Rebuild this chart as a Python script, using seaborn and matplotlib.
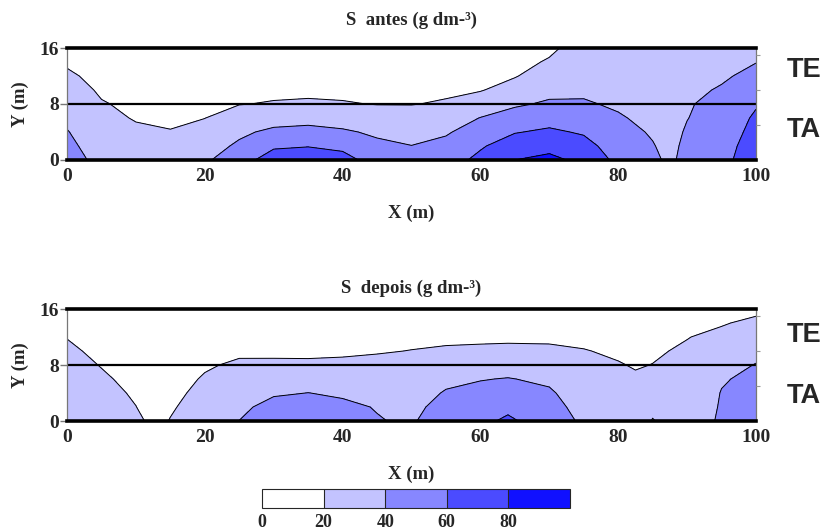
import numpy as np
import seaborn as sns
import matplotlib
matplotlib.use("Agg")
import matplotlib.pyplot as plt

# grid (m) where the salinity values were read
y_pts = [0, 2, 4, 6, 8, 10, 12, 14, 16]

# S antes - one list per x position, values from y=0 up to y=16
x_antes = [0, 5, 10, 15, 20, 25, 30, 35, 40, 45, 50, 55, 60, 65, 70, 75, 80, 85, 87.5, 90, 95, 100]
s_antes = [
    [50, 45, 41, 36, 32, 27, 22.5, 18, 14],
    [33, 30, 27, 24, 21, 18, 15.5, 12.5, 10],
    [30, 26, 22.5, 19, 17, 14.5, 12.5, 10, 8],
    [29, 24.5, 20.5, 18, 16, 14, 12, 10, 8],
    [38, 32, 25.5, 19.8, 17.5, 15, 12.5, 10.5, 8],
    [48, 43, 36.5, 27.5, 19.5, 16.5, 14, 11, 8],
    [74, 56, 44, 32, 21, 17, 13, 9.5, 6],
    [75, 59, 46, 33.5, 22, 17, 13.5, 9.5, 6],
    [68, 55, 42.5, 31.5, 21, 17, 13, 9.5, 6],
    [50.5, 44, 37, 28.5, 19.5, 16.5, 13, 9.5, 6],
    [46, 40.3, 33.5, 26.5, 19.5, 16, 13, 9.5, 6],
    [52, 45, 38, 30, 21.5, 17.5, 14.5, 11, 8],
    [64.5, 58, 49, 40.5, 29, 19, 16, 13, 10],
    [80, 69.5, 59, 48, 37.5, 27, 19, 15.5, 12],
    [85, 74, 63, 53, 42.5, 35, 28.5, 21.5, 17],
    [75, 66.5, 58, 50, 41.5, 37.5, 34, 30.5, 27],
    [55, 50.5, 46, 41.5, 38, 34.5, 31.5, 28, 25],
    [44.3, 41, 38.3, 36, 34, 31.7, 29.5, 27.2, 25],
    [36, 35, 34, 33, 32, 30.5, 29, 27.5, 26],
    [47, 44.5, 42, 39.5, 38, 35, 32, 29, 26],
    [54, 52.5, 50.5, 49, 47, 42, 37, 32.5, 28],
    [72, 69, 65.5, 62.5, 58.5, 52.5, 46, 39.5, 33],
]

# S depois
x_depois = [0, 5, 10, 12.5, 15, 20, 25, 30, 35, 40, 45, 50, 55, 60, 64, 70, 75, 80, 82.5, 85, 90, 95, 100]
s_depois = [
    [36, 33.3, 30.6, 28, 25.2, 22.4, 19.6, 16, 12],
    [30, 27.3, 24.7, 22, 19.4, 17, 14.7, 12.4, 10],
    [24, 20.2, 18.2, 16.2, 14.1, 12.1, 10.1, 8, 6],
    [16, 15, 14, 13, 12, 11, 10, 8, 6],
    [20.5, 18.7, 17, 15.5, 14, 12.5, 11, 9, 7],
    [32, 25.5, 23.3, 21.1, 18.7, 16, 13.3, 10.7, 8],
    [40.2, 35.6, 31, 26.4, 21.8, 18, 14.7, 11.3, 8],
    [50, 46.6, 37.7, 30, 22.3, 17.5, 14, 10.5, 7],
    [52, 46, 40.2, 31.3, 22.2, 17.4, 14, 10.5, 7],
    [50, 44, 37.4, 30, 22.6, 18, 14.6, 11.3, 8],
    [41.2, 39, 33.8, 28.7, 23.6, 19, 15.3, 11.6, 8],
    [37, 33.7, 30.3, 27, 23.7, 20.3, 17, 13.5, 10],
    [55.8, 48.8, 41.8, 35, 28.3, 21.7, 17.3, 13.6, 10],
    [56, 50.5, 45, 39.2, 30.8, 22.5, 17.4, 13.7, 10],
    [63, 56.2, 48.5, 40.8, 32, 23.1, 17.5, 13.8, 10],
    [51, 46.7, 42.4, 36.8, 29.6, 22.5, 17.5, 13.8, 10],
    [36.5, 33.3, 30.1, 26.9, 23.7, 20.5, 17.3, 14.2, 11],
    [35, 31.4, 27.9, 24.3, 20.7, 18.3, 16.2, 14.1, 12],
    [30, 27.1, 24.3, 21.4, 19.2, 17.7, 16.1, 14.6, 13],
    [19, 24, 23, 21.8, 20.2, 18.5, 17, 15.5, 14],
    [32, 30, 28, 25.8, 23.7, 21.7, 19.6, 17.8, 16],
    [42, 41.3, 40.6, 38.7, 33.5, 28.3, 23.1, 19, 16.5],
    [52, 49.2, 46.4, 43.5, 40.7, 35.3, 29.1, 22.8, 17],
]

levels = [0, 20, 40, 60, 80, 100]
cbar_ticks = [0, 20, 40, 60, 80]

sns.set_style("white")
plt.rcParams['font.family'] = ['Liberation Serif', 'DejaVu Serif']
plt.rcParams['font.weight'] = 'bold'

pal = sns.blend_palette(["#ffffff", "#1010ff"], 5)

fig = plt.figure(figsize=(8.27, 5.31), dpi=100)
W, H = 827.0, 531.0
sans = ['Liberation Sans', 'DejaVu Sans']


def panel(bottom_px, xs, cols, title, title_px, te_px, ta_px, top_ticks):
    ax = fig.add_axes([67 / W, 1 - bottom_px / H, 689 / W, 112 / H])
    z = np.array(cols).T
    cf = ax.contourf(xs, y_pts, z, levels=levels, colors=pal)
    ax.contour(xs, y_pts, z, levels=levels[1:-1], colors='black', linewidths=0.7)
    ax.axhline(8, color='black', lw=1.6)
    ax.set_xlim(0, 100)
    ax.set_ylim(0, 16)
    ax.set_xticks(range(0, 101, 20))
    ax.set_yticks([0, 8, 16])
    ax.tick_params(direction='out', length=5, width=1, color='#777777',
                   labelsize=14, pad=1)
    for lab in ax.get_xticklabels() + ax.get_yticklabels():
        lab.set_fontweight('bold')
    for s in ['top', 'bottom']:
        ax.spines[s].set_linewidth(2.6)
        ax.spines[s].set_color('black')
    for s in ['left', 'right']:
        ax.spines[s].set_linewidth(0.9)
        ax.spines[s].set_color('#777777')
    # small ticks on the right side
    ar = ax.twinx()
    ar.set_ylim(0, 16)
    ar.set_yticks([5, 10, 15])
    ar.tick_params(direction='out', length=3, color='#999999', labelright=False)
    for s in ar.spines.values():
        s.set_visible(False)
    if top_ticks:
        at = ax.secondary_xaxis('top')
        at.set_xticks(range(0, 101, 10))
        at.tick_params(direction='in', length=3, color='#555555', labeltop=False)
        at.spines['top'].set_visible(False)
    fig.text(411 / W, 1 - title_px / H, title, ha='center', va='center',
             fontsize=13.5, fontweight='bold')
    fig.text(411 / W, 1 - (bottom_px + 53) / H, "X (m)", ha='center', va='center',
             fontsize=13.5, fontweight='bold')
    fig.text(20 / W, 1 - (bottom_px - 56) / H, "Y (m)", ha='center', va='center',
             rotation=90, fontsize=13.5, fontweight='bold')
    fig.text(787 / W, 1 - te_px / H, "TE", ha='left', va='center',
             fontsize=19.5, fontweight='bold', family=sans)
    fig.text(787 / W, 1 - ta_px / H, "TA", ha='left', va='center',
             fontsize=19.5, fontweight='bold', family=sans)
    return cf


cf = panel(160, x_antes, s_antes, "S  antes (g dm-³)", 20, 70, 130, False)
panel(421, x_depois, s_depois, "S  depois (g dm-³)", 288, 335, 396, True)

cax = fig.add_axes([262 / W, 1 - 508 / H, 308 / W, 19 / H])
cb = fig.colorbar(cf, cax=cax, orientation='horizontal', drawedges=True)
cb.set_ticks(cbar_ticks)
cb.ax.tick_params(length=0, labelsize=13, pad=4)
for lab in cb.ax.get_xticklabels():
    lab.set_fontweight('bold')
cb.outline.set_linewidth(0.8)
cb.dividers.set_linewidth(0.8)

fig.savefig("out.png", dpi=100)
